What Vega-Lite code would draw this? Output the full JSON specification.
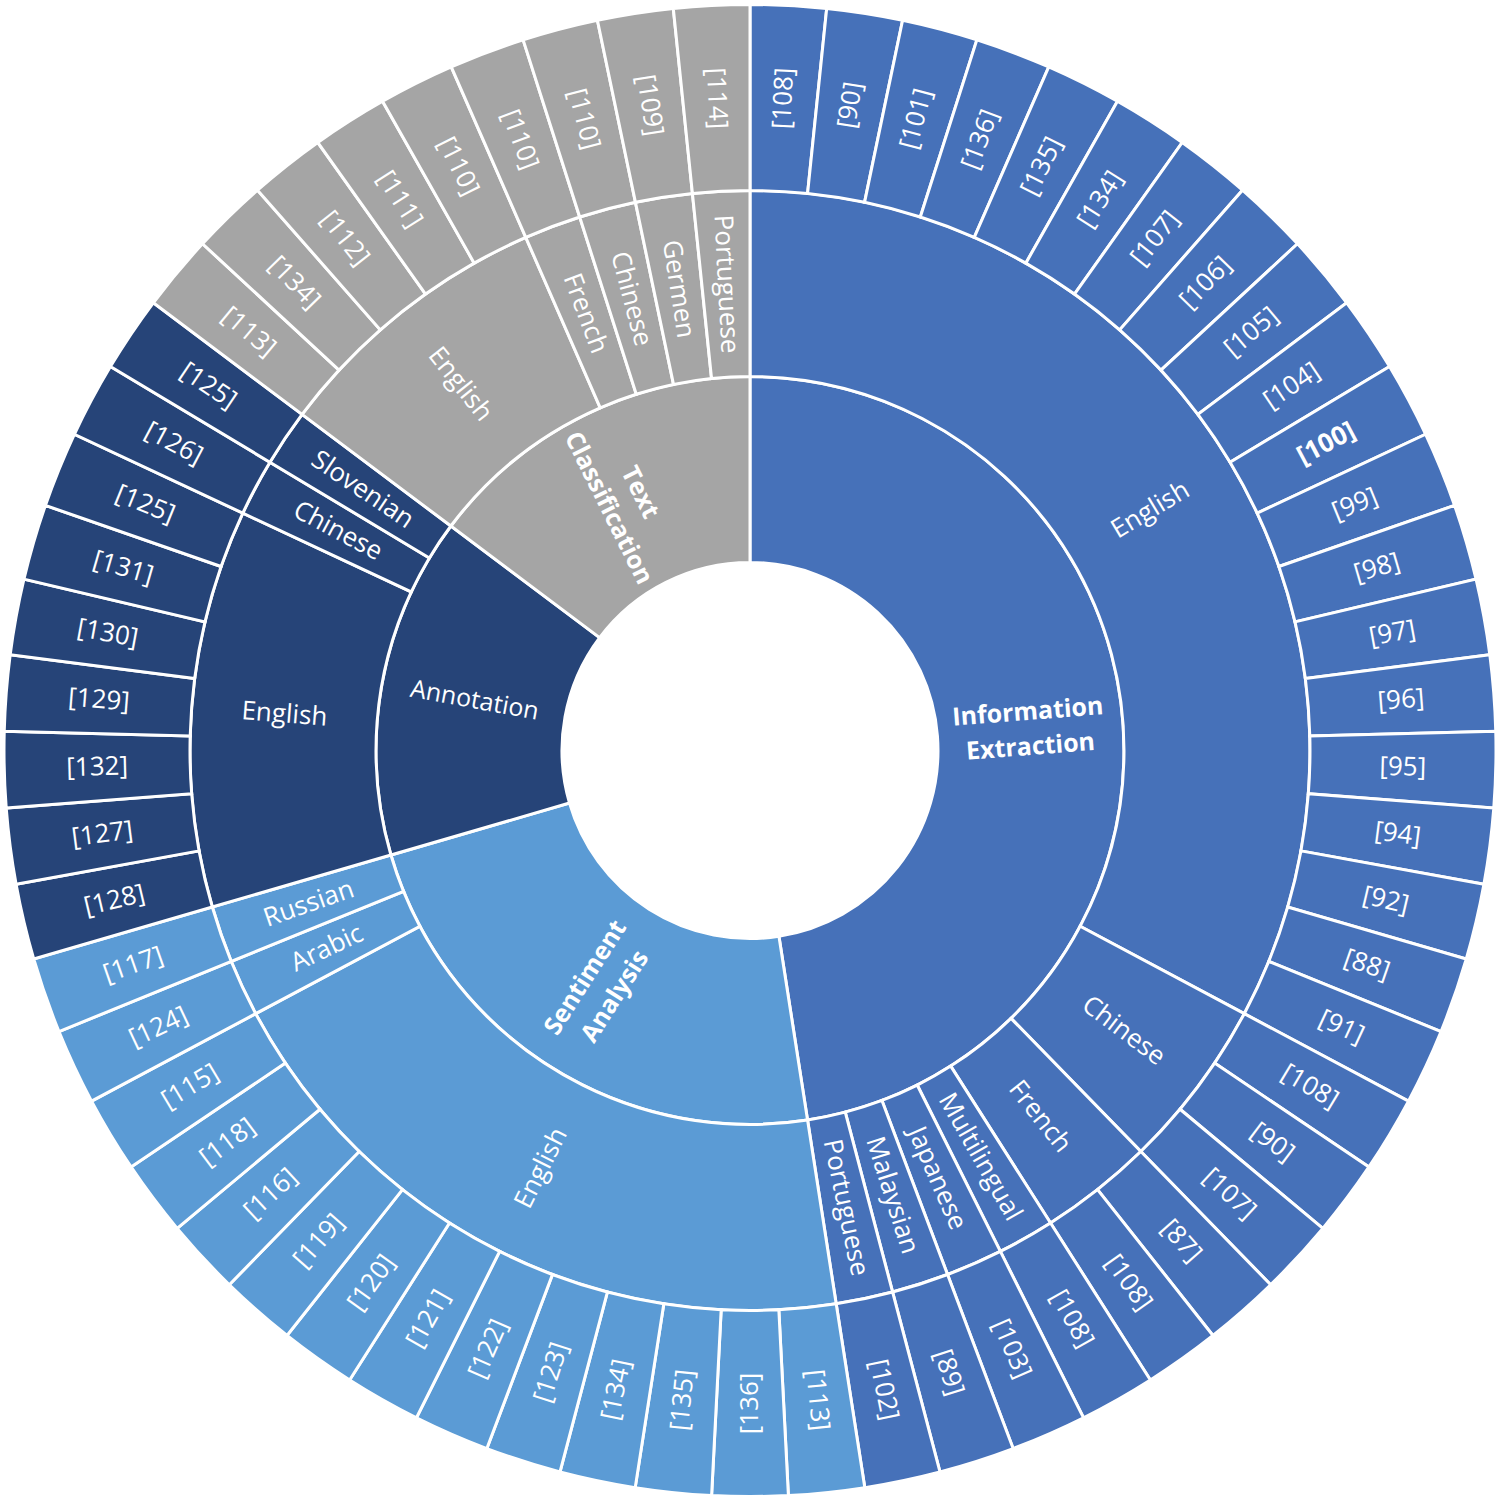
{
  "$schema": "https://vega.github.io/schema/vega-lite/v6.json",
  "width": 1500,
  "height": 1501,
  "autosize": {"type": "fit", "contains": "padding"},
  "padding": 0,
  "background": "white",
  "config": {"view": {"stroke": null}},
  "data": {"values": [
    {"i": 0, "cat": "Information Extraction", "lang": "English", "ref": "[108]"},
    {"i": 1, "cat": "Information Extraction", "lang": "English", "ref": "[90]"},
    {"i": 2, "cat": "Information Extraction", "lang": "English", "ref": "[101]"},
    {"i": 3, "cat": "Information Extraction", "lang": "English", "ref": "[136]"},
    {"i": 4, "cat": "Information Extraction", "lang": "English", "ref": "[135]"},
    {"i": 5, "cat": "Information Extraction", "lang": "English", "ref": "[134]"},
    {"i": 6, "cat": "Information Extraction", "lang": "English", "ref": "[107]"},
    {"i": 7, "cat": "Information Extraction", "lang": "English", "ref": "[106]"},
    {"i": 8, "cat": "Information Extraction", "lang": "English", "ref": "[105]"},
    {"i": 9, "cat": "Information Extraction", "lang": "English", "ref": "[104]"},
    {"i": 10, "cat": "Information Extraction", "lang": "English", "ref": "[100]"},
    {"i": 11, "cat": "Information Extraction", "lang": "English", "ref": "[99]"},
    {"i": 12, "cat": "Information Extraction", "lang": "English", "ref": "[98]"},
    {"i": 13, "cat": "Information Extraction", "lang": "English", "ref": "[97]"},
    {"i": 14, "cat": "Information Extraction", "lang": "English", "ref": "[96]"},
    {"i": 15, "cat": "Information Extraction", "lang": "English", "ref": "[95]"},
    {"i": 16, "cat": "Information Extraction", "lang": "English", "ref": "[94]"},
    {"i": 17, "cat": "Information Extraction", "lang": "English", "ref": "[92]"},
    {"i": 18, "cat": "Information Extraction", "lang": "English", "ref": "[88]"},
    {"i": 19, "cat": "Information Extraction", "lang": "English", "ref": "[91]"},
    {"i": 20, "cat": "Information Extraction", "lang": "Chinese", "ref": "[108]"},
    {"i": 21, "cat": "Information Extraction", "lang": "Chinese", "ref": "[90]"},
    {"i": 22, "cat": "Information Extraction", "lang": "Chinese", "ref": "[107]"},
    {"i": 23, "cat": "Information Extraction", "lang": "French", "ref": "[87]"},
    {"i": 24, "cat": "Information Extraction", "lang": "French", "ref": "[108]"},
    {"i": 25, "cat": "Information Extraction", "lang": "Multilingual", "ref": "[108]"},
    {"i": 26, "cat": "Information Extraction", "lang": "Japanese", "ref": "[103]"},
    {"i": 27, "cat": "Information Extraction", "lang": "Malaysian", "ref": "[89]"},
    {"i": 28, "cat": "Information Extraction", "lang": "Portuguese", "ref": "[102]"},
    {"i": 29, "cat": "Sentiment Analysis", "lang": "English", "ref": "[113]"},
    {"i": 30, "cat": "Sentiment Analysis", "lang": "English", "ref": "[136]"},
    {"i": 31, "cat": "Sentiment Analysis", "lang": "English", "ref": "[135]"},
    {"i": 32, "cat": "Sentiment Analysis", "lang": "English", "ref": "[134]"},
    {"i": 33, "cat": "Sentiment Analysis", "lang": "English", "ref": "[123]"},
    {"i": 34, "cat": "Sentiment Analysis", "lang": "English", "ref": "[122]"},
    {"i": 35, "cat": "Sentiment Analysis", "lang": "English", "ref": "[121]"},
    {"i": 36, "cat": "Sentiment Analysis", "lang": "English", "ref": "[120]"},
    {"i": 37, "cat": "Sentiment Analysis", "lang": "English", "ref": "[119]"},
    {"i": 38, "cat": "Sentiment Analysis", "lang": "English", "ref": "[116]"},
    {"i": 39, "cat": "Sentiment Analysis", "lang": "English", "ref": "[118]"},
    {"i": 40, "cat": "Sentiment Analysis", "lang": "English", "ref": "[115]"},
    {"i": 41, "cat": "Sentiment Analysis", "lang": "Arabic", "ref": "[124]"},
    {"i": 42, "cat": "Sentiment Analysis", "lang": "Russian", "ref": "[117]"},
    {"i": 43, "cat": "Annotation", "lang": "English", "ref": "[128]"},
    {"i": 44, "cat": "Annotation", "lang": "English", "ref": "[127]"},
    {"i": 45, "cat": "Annotation", "lang": "English", "ref": "[132]"},
    {"i": 46, "cat": "Annotation", "lang": "English", "ref": "[129]"},
    {"i": 47, "cat": "Annotation", "lang": "English", "ref": "[130]"},
    {"i": 48, "cat": "Annotation", "lang": "English", "ref": "[131]"},
    {"i": 49, "cat": "Annotation", "lang": "English", "ref": "[125]"},
    {"i": 50, "cat": "Annotation", "lang": "Chinese", "ref": "[126]"},
    {"i": 51, "cat": "Annotation", "lang": "Slovenian", "ref": "[125]"},
    {"i": 52, "cat": "Text Classification", "lang": "English", "ref": "[113]"},
    {"i": 53, "cat": "Text Classification", "lang": "English", "ref": "[134]"},
    {"i": 54, "cat": "Text Classification", "lang": "English", "ref": "[112]"},
    {"i": 55, "cat": "Text Classification", "lang": "English", "ref": "[111]"},
    {"i": 56, "cat": "Text Classification", "lang": "English", "ref": "[110]"},
    {"i": 57, "cat": "Text Classification", "lang": "French", "ref": "[110]"},
    {"i": 58, "cat": "Text Classification", "lang": "Chinese", "ref": "[110]"},
    {"i": 59, "cat": "Text Classification", "lang": "Germen", "ref": "[109]"},
    {"i": 60, "cat": "Text Classification", "lang": "Portuguese", "ref": "[114]"}
  ]},
  "layer": [
    {
      "transform": [
        {"aggregate": [{"op": "count", "as": "n"}, {"op": "min", "field": "i", "as": "o"}], "groupby": ["cat"]}
      ],
      "mark": {"type": "arc", "innerRadius": 188, "outerRadius": 374, "stroke": "white", "strokeWidth": 3},
      "encoding": {
        "theta": {"field": "n", "type": "quantitative", "stack": true, "scale": {"domain": [0, 61]}},
        "order": {"field": "o", "type": "quantitative"},
        "color": {"field": "cat", "type": "nominal", "legend": null,
          "scale": {"domain": ["Information Extraction", "Sentiment Analysis", "Annotation", "Text Classification"],
                    "range": ["#4671B9", "#5B9BD5", "#264478", "#A5A5A5"]}}
      }
    },
    {
      "transform": [
        {"aggregate": [{"op": "count", "as": "n"}, {"op": "min", "field": "i", "as": "o"}], "groupby": ["cat"]},
        {"stack": "n", "groupby": [], "sort": [{"field": "o", "order": "ascending"}], "as": ["a0", "a1"]}
      ],
      "mark": {"type": "text", "radius": 280, "color": "white", "font": "Open Sans", "fontSize": 25,
        "fontWeight": {"expr": "datum.cat === 'Annotation' ? 'normal' : 'bold'"},
        "dy": {"expr": "datum.cat === 'Annotation' ? 0 : -17"},
        "lineBreak": " ", "lineHeight": 35, "align": "center", "baseline": "middle",
        "angle": {"expr": "(datum.a0 + datum.a1) * 180 / 61 < 180 ? (datum.a0 + datum.a1) * 180 / 61 - 90 : (datum.a0 + datum.a1) * 180 / 61 - 270"}},
      "encoding": {
        "theta": {"field": "n", "type": "quantitative", "stack": true, "scale": {"domain": [0, 61]}},
        "order": {"field": "o", "type": "quantitative"},
        "detail": {"field": "cat", "type": "nominal"},
        "text": {"field": "cat", "type": "nominal"}
      }
    },
    {
      "transform": [
        {"aggregate": [{"op": "count", "as": "n"}, {"op": "min", "field": "i", "as": "o"}], "groupby": ["cat", "lang"]}
      ],
      "mark": {"type": "arc", "innerRadius": 374, "outerRadius": 560, "stroke": "white", "strokeWidth": 3},
      "encoding": {
        "theta": {"field": "n", "type": "quantitative", "stack": true, "scale": {"domain": [0, 61]}},
        "order": {"field": "o", "type": "quantitative"},
        "detail": {"field": "lang", "type": "nominal"},
        "color": {"field": "cat", "type": "nominal", "legend": null}
      }
    },
    {
      "transform": [
        {"aggregate": [{"op": "count", "as": "n"}, {"op": "min", "field": "i", "as": "o"}], "groupby": ["cat", "lang"]},
        {"stack": "n", "groupby": [], "sort": [{"field": "o", "order": "ascending"}], "as": ["a0", "a1"]}
      ],
      "mark": {"type": "text", "radius": 467, "color": "white", "font": "Open Sans", "fontSize": 26,
        "align": "center", "baseline": "middle",
        "angle": {"expr": "(datum.a0 + datum.a1) * 180 / 61 < 180 ? (datum.a0 + datum.a1) * 180 / 61 - 90 : (datum.a0 + datum.a1) * 180 / 61 - 270"}},
      "encoding": {
        "theta": {"field": "n", "type": "quantitative", "stack": true, "scale": {"domain": [0, 61]}},
        "order": {"field": "o", "type": "quantitative"},
        "detail": {"field": "o", "type": "nominal"},
        "text": {"field": "lang", "type": "nominal"}
      }
    },
    {
      "transform": [
        {"aggregate": [{"op": "count", "as": "n"}], "groupby": ["i", "cat", "lang", "ref"]}
      ],
      "mark": {"type": "arc", "innerRadius": 560, "outerRadius": 746, "stroke": "white", "strokeWidth": 3},
      "encoding": {
        "theta": {"field": "n", "type": "quantitative", "stack": true, "scale": {"domain": [0, 61]}},
        "order": {"field": "i", "type": "quantitative"},
        "detail": {"field": "i", "type": "nominal"},
        "color": {"field": "cat", "type": "nominal", "legend": null}
      }
    },
    {
      "transform": [
        {"aggregate": [{"op": "count", "as": "n"}], "groupby": ["i", "cat", "lang", "ref"]},
        {"stack": "n", "groupby": [], "sort": [{"field": "i", "order": "ascending"}], "as": ["a0", "a1"]}
      ],
      "mark": {"type": "text", "radius": 653, "color": "white", "font": "Open Sans", "fontSize": 26,
        "fontWeight": {"expr": "datum.ref === '[100]' ? 'bold' : 'normal'"},
        "align": "center", "baseline": "middle",
        "angle": {"expr": "(datum.a0 + datum.a1) * 180 / 61 < 180 ? (datum.a0 + datum.a1) * 180 / 61 - 90 : (datum.a0 + datum.a1) * 180 / 61 - 270"}},
      "encoding": {
        "theta": {"field": "n", "type": "quantitative", "stack": true, "scale": {"domain": [0, 61]}},
        "order": {"field": "i", "type": "quantitative"},
        "detail": {"field": "i", "type": "nominal"},
        "text": {"field": "ref", "type": "nominal"}
      }
    }
  ]
}
